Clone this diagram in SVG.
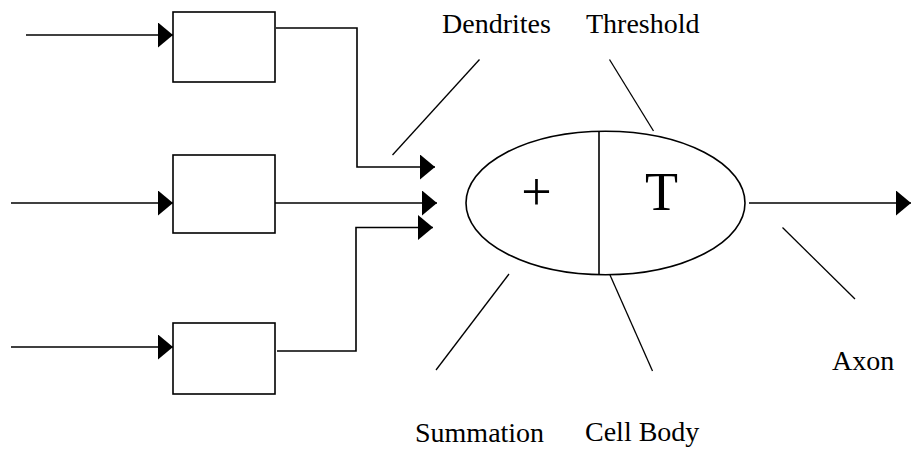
<svg xmlns="http://www.w3.org/2000/svg" width="911" height="450" viewBox="0 0 911 450">
  <style>
    .box { fill: #fff; stroke: #000; stroke-width: 1.6; }
    .wire { fill: none; stroke: #000; stroke-width: 1.6; marker-end: url(#arrow); }
    .plain { fill: none; stroke: #000; stroke-width: 1.6; }
    .leader { fill: none; stroke: #000; stroke-width: 1.3; }
    .body { fill: #fff; stroke: #000; stroke-width: 1.6; }
    .lbl { font-family: 'Liberation Serif', serif; font-size: 28px; fill: #000; }
    .sym { font-family: 'Liberation Serif', serif; font-size: 54px; fill: #000; text-anchor: middle; }
  </style>
  <defs>
    <marker id="arrow" viewBox="0 0 15 25" refX="15" refY="12.5" markerWidth="15" markerHeight="25" markerUnits="userSpaceOnUse" orient="auto">
      <path d="M0,0 L15,12.5 L0,25 Z" fill="#000"/>
    </marker>
  </defs>
  <rect width="911" height="450" fill="#fff"/>

  <!-- weighting blocks on the inputs -->
  <g id="box1"><rect class="box" x="173" y="12" width="102" height="70"/></g>
  <g id="box2"><rect class="box" x="173" y="155" width="102" height="78"/></g>
  <g id="box3"><rect class="box" x="173" y="323" width="102" height="71"/></g>

  <!-- cell body: summation half and threshold half -->
  <g id="cell-body">
    <ellipse class="body" cx="605.5" cy="203" rx="139.5" ry="71.7"/>
    <line class="plain" x1="599" y1="131" x2="599" y2="275"/>
    <text class="sym" x="536.5" y="210">+</text>
    <text class="sym" x="661.5" y="210">T</text>
  </g>

  <!-- signal paths -->
  <g id="connectors">
    <path class="wire" d="M26,35 H173"/>
    <path class="wire" d="M11,203 H173"/>
    <path class="wire" d="M11,347 H173"/>
    <path class="wire" d="M276,28 H357 V167 H435"/>
    <path class="wire" d="M275,203 H437"/>
    <path class="wire" d="M277,351 H356 V227.5 H433"/>
    <path class="wire" d="M749,203 H911"/>
  </g>

  <!-- labels with their pointer lines -->
  <g id="label-dendrites">
    <line class="leader" x1="479.5" y1="59.5" x2="392.5" y2="155"/>
    <text class="lbl" x="442" y="33">Dendrites</text>
  </g>
  <g id="label-threshold">
    <line class="leader" x1="609.5" y1="59.5" x2="653.5" y2="131"/>
    <text class="lbl" x="586" y="33">Threshold</text>
  </g>
  <g id="label-summation">
    <line class="leader" x1="509" y1="274" x2="436" y2="370"/>
    <text class="lbl" x="415" y="441.5">Summation</text>
  </g>
  <g id="label-cell-body">
    <line class="leader" x1="610" y1="275" x2="652.5" y2="371"/>
    <text class="lbl" x="585" y="440.5">Cell Body</text>
  </g>
  <g id="label-axon">
    <line class="leader" x1="782.5" y1="227.5" x2="855" y2="299"/>
    <text class="lbl" x="832" y="369.5">Axon</text>
  </g>
</svg>
